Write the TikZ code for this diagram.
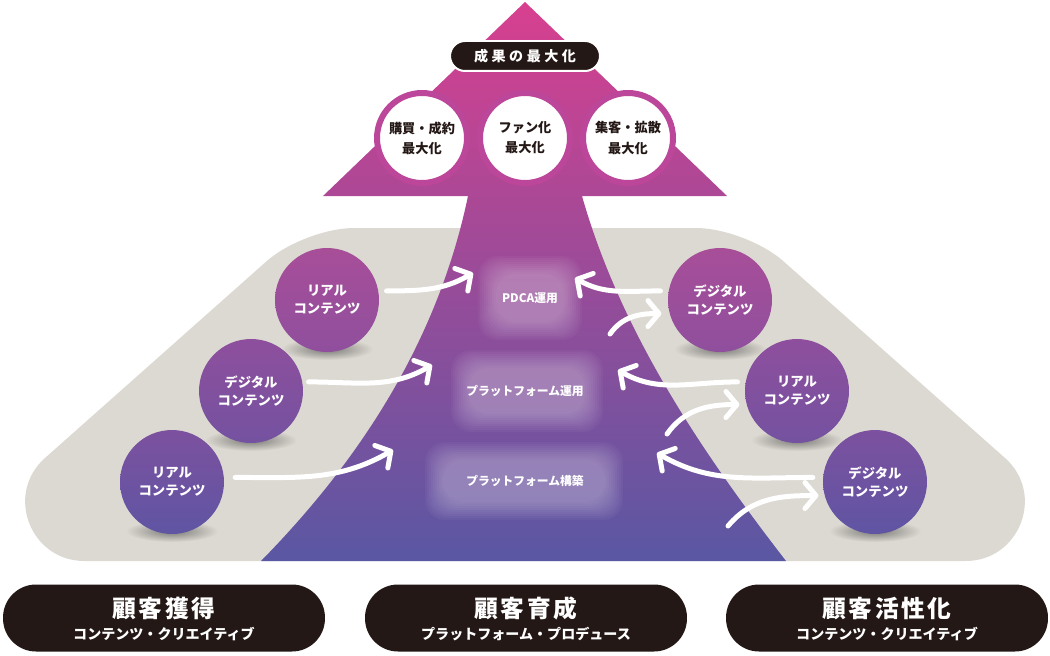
\documentclass[tikz,border=0pt]{standalone}
\usepackage{fontspec}
\setmainfont{Noto Sans CJK JP}
\usetikzlibrary{arrows.meta}

\definecolor{bggray}{HTML}{DCD9D2}
\definecolor{inkblack}{HTML}{231815}
\definecolor{uppink}{HTML}{D7408F}
\definecolor{upmid}{HTML}{A34B9B}
\definecolor{upblue}{HTML}{5A57A3}
\definecolor{ringpink}{HTML}{BC4699}
\definecolor{rowAtop}{HTML}{A84E99}
\definecolor{rowAbot}{HTML}{8F4F9D}
\definecolor{rowBtop}{HTML}{8E4F9D}
\definecolor{rowBbot}{HTML}{7452A0}
\definecolor{rowCtop}{HTML}{7C519F}
\definecolor{rowCbot}{HTML}{5F55A3}

\tikzset{
  sidecirc/.style={circle, minimum size=2.08cm, inner sep=0pt, text=white,
    font=\bfseries\fontsize{7.6}{10.4}\selectfont, align=center},
  rowA/.style={top color=rowAtop, bottom color=rowAbot},
  rowB/.style={top color=rowBtop, bottom color=rowBbot},
  rowC/.style={top color=rowCtop, bottom color=rowCbot},
  goalcirc/.style={circle, fill=white, draw=ringpink, line width=0.12cm,
    minimum size=1.8cm, inner sep=0pt, text=inkblack,
    font=\bfseries\fontsize{7.5}{11.4}\selectfont, align=center},
  steplabel/.style={text=white, font=\bfseries\fontsize{6.7}{8}\selectfont},
  flow/.style={white, line width=0.1cm, line cap=round,
    -{Straight Barb[length=0.22cm, width=0.52cm, round]}},
  stagepill/.style={fill=inkblack, rounded corners=0.66cm,
    minimum width=6.44cm, minimum height=1.34cm},
  stagetitle/.style={text=white, font=\bfseries\fontsize{13.5}{15}\selectfont},
  stagesub/.style={text=white, font=\bfseries\fontsize{8}{9}\selectfont}
}

\begin{document}
\begin{tikzpicture}[x=0.02cm, y=-0.02cm]
  \useasboundingbox (0,0) rectangle (1050,655);

  % gray field behind the circles
  \fill[bggray] (84.5,561) -- (965.5,561)
    .. controls (1019.8,561) and (1045.6,494) .. (1005,458) -- (875.5,343)
    [rounded corners=1cm] -- (746,228) -- (304,228) -- (174.5,343)
    [sharp corners] -- (45,458)
    .. controls (4.4,494) and (30.2,561) .. (84.5,561) -- cycle;

  % big arrow
  \shade[top color=uppink, middle color=upmid, bottom color=upblue]
    (525,2) -- (727,196) -- (582,196)
    .. controls (620,330) and (700,450) .. (786,561)
    -- (261,561) .. controls (370,450) and (440,330) .. (468,196)
    -- (323,196) -- cycle;

  % soft pills in the shaft
  \foreach \cx/\cy/\w/\h in {530/298/92/72, 527/391/140/70, 524/481/186/66}
    \foreach \k in {-3,...,6}
      \fill[white, fill opacity=0.035, rounded corners=0.4cm]
        ({\cx-\w/2+2*\k},{\cy-\h/2+2*\k}) rectangle ({\cx+\w/2-2*\k},{\cy+\h/2-2*\k});

  \node[steplabel] (pdca) at (530,298) {PDCA運用};
  \node[steplabel] (pfrun) at (525,391) {プラットフォーム運用};
  \node[steplabel] (pfbuild) at (525,481) {プラットフォーム構築};

  % shadows
  \foreach \cx/\cy in {327/300, 251/391, 172/482, 720/300, 797/391, 875/482}
    \shade[inner color=black!45!bggray, outer color=bggray]
      (\cx,\cy+49) ellipse (46 and 11);

  % left side
  \node[sidecirc, rowA] (L1) at (327,300) {リアル\\コンテンツ};
  \node[sidecirc, rowB] (L2) at (251,391) {デジタル\\コンテンツ};
  \node[sidecirc, rowC] (L3) at (172,482) {リアル\\コンテンツ};

  % right side
  \node[sidecirc, rowA] (R1) at (720,300) {デジタル\\コンテンツ};
  \node[sidecirc, rowB] (R2) at (797,391) {リアル\\コンテンツ};
  \node[sidecirc, rowC] (R3) at (875,482) {デジタル\\コンテンツ};

  % arrow ends inside the shaft
  \coordinate (inA) at (473,273);
  \coordinate (inB) at (432,365);
  \coordinate (inC) at (393,450);
  \coordinate (backA) at (575,278);
  \coordinate (backB) at (618,370);
  \coordinate (backC) at (657,453);
  \coordinate (outA) at (610,334);
  \coordinate (outB) at (667,434);
  \coordinate (outC) at (728,526);

  \draw[flow] ([xshift=0.16cm]L1.10) to[out=0, in=-150] (inA);
  \draw[flow] ([xshift=0.12cm]L2.10) to[out=0, in=-150] (inB);
  \draw[flow] ([xshift=0.22cm]L3.5) to[out=0, in=-150] (inC);

  \draw[flow] ([xshift=-0.16cm]R1.170) to[out=180, in=-30] (backA);
  \draw[flow] ([xshift=-0.16cm]R2.170) to[out=180, in=-30] (backB);
  \draw[flow] ([xshift=-0.2cm]R3.175) to[out=180, in=-30] (backC);

  \draw[flow] (outA) to[out=55, in=180] ([xshift=-0.16cm]R1.195);
  \draw[flow] (outB) to[out=55, in=180] ([xshift=-0.14cm]R2.195);
  \draw[flow] (outC) to[out=50, in=180] ([xshift=-0.12cm]R3.195);

  % results at the top
  \node[goalcirc] (buy) at (422,138) {購買・成約\\最大化};
  \node[goalcirc] (fan) at (525,138) {ファン化\\最大化};
  \node[goalcirc] (reach) at (628,138) {集客・拡散\\最大化};

  \node[fill=inkblack, draw=white, line width=0.04cm, rounded corners=0.3cm,
    minimum width=3cm, minimum height=0.6cm, text=white,
    font=\bfseries\fontsize{8}{9}\selectfont] (goal) at (525,56)
    {成\kern2pt 果\kern2pt の\kern2pt 最\kern2pt 大\kern2pt 化};

  % stages
  \node[stagepill] (gain) at (164,618) {};
  \node[stagepill] (grow) at (526,618) {};
  \node[stagepill] (boost) at (887,618) {};

  \node[stagetitle] (gainT) at ([yshift=0.2cm]gain.center)
    {顧\kern1.5pt 客\kern1.5pt 獲\kern1.5pt 得};
  \node[stagesub] (gainS) at ([yshift=-0.32cm]gain.center) {コンテンツ・クリエイティブ};
  \node[stagetitle] (growT) at ([yshift=0.2cm]grow.center)
    {顧\kern1.5pt 客\kern1.5pt 育\kern1.5pt 成};
  \node[stagesub] (growS) at ([yshift=-0.32cm]grow.center) {プラットフォーム・プロデュース};
  \node[stagetitle] (boostT) at ([yshift=0.2cm]boost.center)
    {顧\kern1.5pt 客\kern1.5pt 活\kern1.5pt 性\kern1.5pt 化};
  \node[stagesub] (boostS) at ([yshift=-0.32cm]boost.center) {コンテンツ・クリエイティブ};
\end{tikzpicture}
\end{document}
